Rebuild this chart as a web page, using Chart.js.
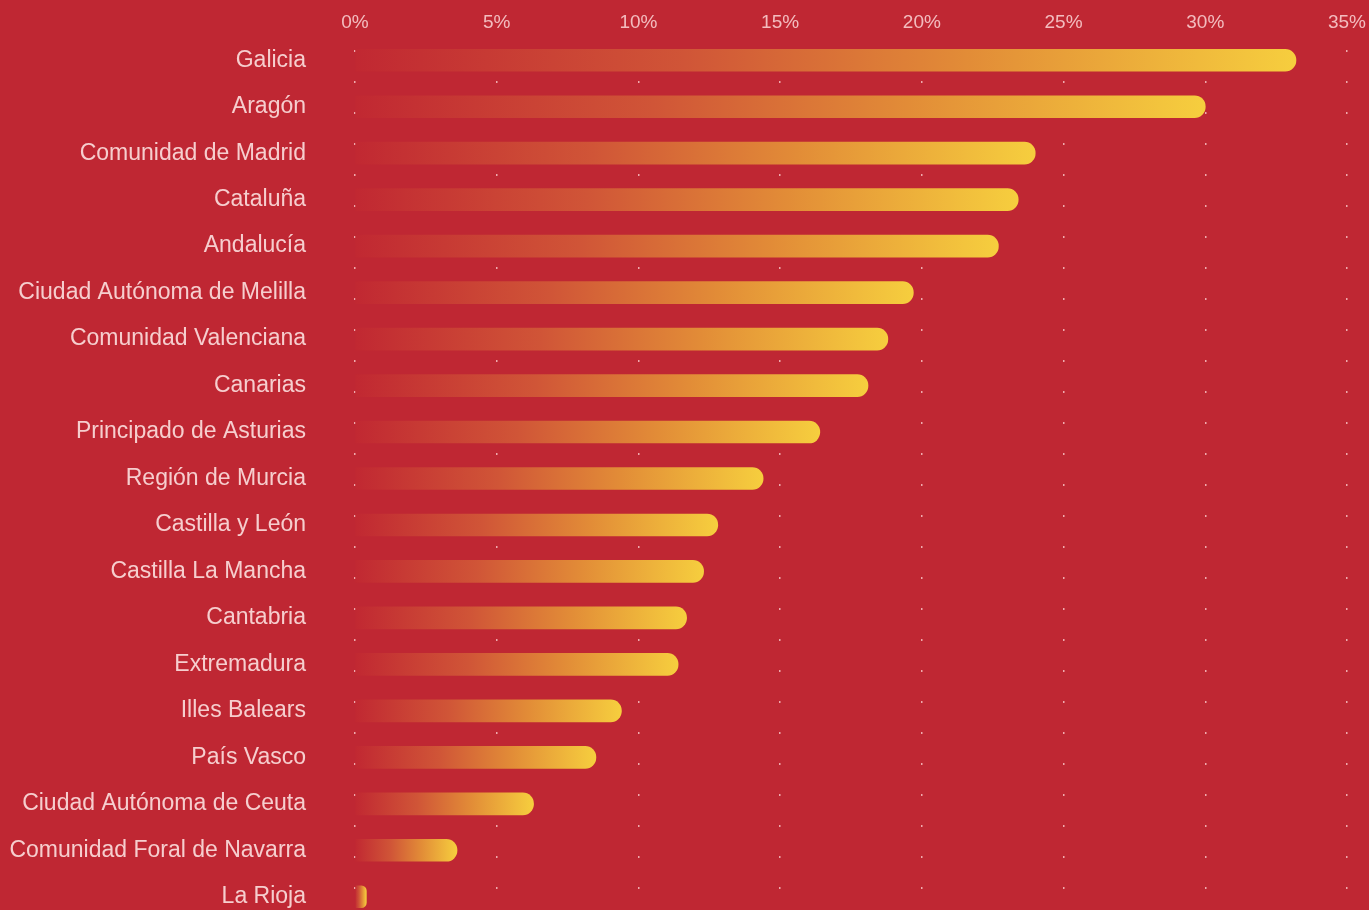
<!DOCTYPE html>
<html lang="es">
<head>
<meta charset="utf-8">
<title>Comunidades autónomas</title>
<script src="https://cdn.jsdelivr.net/npm/chart.js@4.4.1/dist/chart.umd.min.js"></script>
<style>
    html, body {
        margin: 0;
        padding: 0;
        background: #bf2733;
        overflow: hidden;
    }
    #chart {
        display: block;
    }
</style>
</head>
<body>
<canvas id="chart" width="1369" height="920"></canvas>
<script>
// Datos
const regiones = [
    'Galicia', 'Aragón', 'Comunidad de Madrid', 'Cataluña', 'Andalucía',
    'Ciudad Autónoma de Melilla', 'Comunidad Valenciana', 'Canarias',
    'Principado de Asturias', 'Región de Murcia', 'Castilla y León',
    'Castilla La Mancha', 'Cantabria', 'Extremadura', 'Illes Balears',
    'País Vasco', 'Ciudad Autónoma de Ceuta', 'Comunidad Foral de Navarra', 'La Rioja'
];
const porcentajes = [
    33.2, 30.0, 24.0, 23.4, 22.7,
    19.7, 18.8, 18.1,
    16.4, 14.4, 12.8,
    12.3, 11.7, 11.4, 9.4,
    8.5, 6.3, 3.6, 0.4
];
const ticksX = [0, 5, 10, 15, 20, 25, 30, 35];

// Degradado rojo -> amarillo, uno por barra
function gradienteBarra(context) {
    const chart = context.chart;
    if (!chart.chartArea) return '#e08a3a';
    const x = chart.scales.x;
    const v = context.raw || 0;
    const x0 = x.getPixelForValue(0);
    const x1 = Math.max(x.getPixelForValue(v), x0 + 1);
    const g = chart.ctx.createLinearGradient(x0, 0, x1, 0);
    g.addColorStop(0, 'rgb(193, 40, 50)');
    g.addColorStop(0.35, 'rgb(208, 85, 55)');
    g.addColorStop(0.65, 'rgb(226, 140, 55)');
    g.addColorStop(1, 'rgb(246, 206, 62)');
    return g;
}

new Chart(document.getElementById('chart'), {
    type: 'bar',
    data: {
        labels: regiones,
        datasets: [{
            data: porcentajes,
            backgroundColor: gradienteBarra,
            barThickness: 22,
            borderRadius: 11,
            borderSkipped: 'start'
        }]
    },
    options: {
        indexAxis: 'y',
        responsive: false,
        animation: false,
        layout: { padding: { left: 0, right: 21, top: 0, bottom: 0 } },
        plugins: {
            legend: { display: false },
            tooltip: { enabled: false }
        },
        scales: {
            x: {
                position: 'top',
                min: 0,
                max: 35,
                afterBuildTicks: (axis) => {
                    axis.ticks = ticksX.map(v => ({ value: v }));
                },
                afterFit: (axis) => { axis.height = 37; },
                ticks: {
                    color: 'rgba(246, 196, 198, 0.95)',
                    font: { family: 'Liberation Sans', size: 19 },
                    padding: 3,
                    callback: (v) => v + '%'
                },
                grid: {
                    color: 'rgba(255, 215, 215, 0.75)',
                    lineWidth: 1.5,
                    drawTicks: false
                },
                border: {
                    display: false,
                    dash: [2, 29],
                    dashOffset: 18
                }
            },
            y: {
                afterFit: (axis) => {
                    axis.width = 355;
                    // sin relleno vertical extra por el padding de las etiquetas
                    axis.paddingTop = 0;
                    axis.paddingBottom = 0;
                },
                ticks: {
                    color: 'rgba(248, 212, 212, 0.97)',
                    font: { family: 'Liberation Sans', size: 23 },
                    padding: 49
                },
                grid: { display: false, drawTicks: false },
                border: { display: false }
            }
        }
    }
});
</script>
</body>
</html>
